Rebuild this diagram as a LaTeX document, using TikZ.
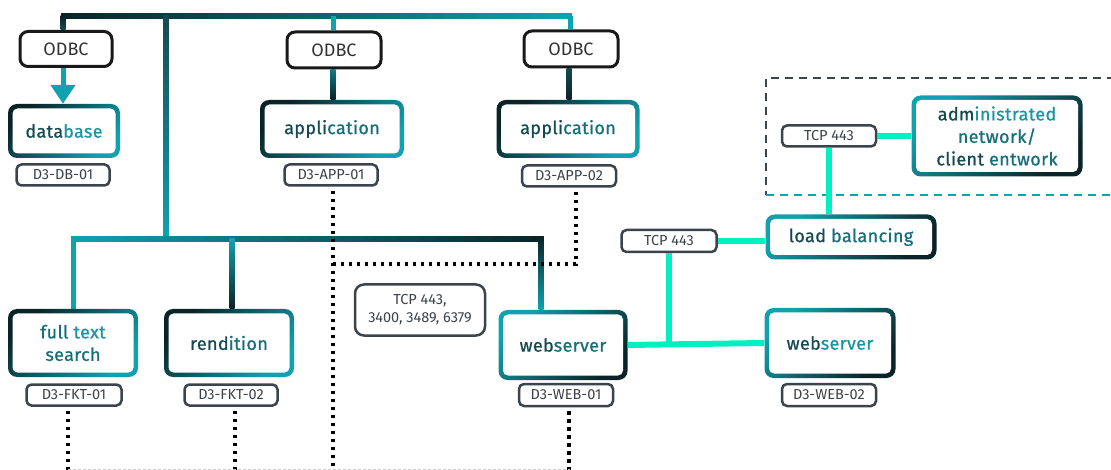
\documentclass[tikz,border=0pt]{standalone}
\usepackage{fontspec}
\setmainfont{Fira Sans}
\newfontfamily\boxfont[FakeBold=0.9,LetterSpace=2]{Fira Sans}
\usetikzlibrary{arrows.meta,calc}
\definecolor{dk}{HTML}{0A2326}
\definecolor{tl}{HTML}{11A2B0}
\definecolor{md}{HTML}{0E7A85}
\definecolor{tdk}{HTML}{164A50}
\definecolor{tmd}{HTML}{16707A}
\definecolor{ttl}{HTML}{1897A3}
\definecolor{mint}{HTML}{00F0C2}
\definecolor{slate}{HTML}{3B434C}
\definecolor{txtg}{HTML}{3D424A}
\newcommand\gbox[7]{%
  \shade[rounded corners=9pt,#6] ({#2-#4/2},{#3-#5/2}) rectangle ({#2+#4/2},{#3+#5/2});
  \fill[white,rounded corners=5pt] ({#2-#4/2+4.5},{#3-#5/2+4.5}) rectangle ({#2+#4/2-4.5},{#3+#5/2-4.5});
  \node[boxtext,minimum width=#4pt,minimum height=#5pt] (#1) at (#2,#3) {#7};}
\newcommand\hseg[4]{\shade[#4] ($(#1)+(0,-#3/2)$) rectangle ($(#2)+(0,#3/2)$);}
\newcommand\vseg[4]{\shade[#4] ($(#1)+(-#3/2,0)$) rectangle ($(#2)+(#3/2,0)$);}
\tikzset{
  x=1pt,y=-1pt,
  boxtext/.style={inner sep=0pt,align=center,font=\boxfont\fontsize{18}{22.5}\selectfont},
  dtl/.style={top color=dk,bottom color=tl,shading angle=45},
  tdl/.style={top color=tl,bottom color=dk,shading angle=45},
  odbc/.style={draw=black!90,line width=3pt,rounded corners=8pt,fill=white,inner sep=0pt,
    minimum width=92pt,minimum height=35pt,text=black!80,font=\fontsize{18}{20}\selectfont},
  lbl/.style={draw=slate,line width=2.5pt,rounded corners=5pt,fill=white,inner sep=0pt,
    minimum width=93pt,minimum height=21pt,text=txtg,align=center,font=\fontsize{14.5}{18}\selectfont},
  mintline/.style={draw=mint,line width=6pt},
  dotline/.style={draw=black,line width=3.5pt,dash pattern=on 3.5pt off 4.5pt},
}
\begin{document}
\begin{tikzpicture}
\useasboundingbox (0,0) rectangle (1111,470);
% dashed region
\draw[slate,line width=1.8pt,dash pattern=on 8pt off 6pt] (1115,78) -- (766,78) -- (766,195);
\draw[tl,line width=1.8pt,dash pattern=on 8pt off 6pt] (766,195) -- (1115,195);
% boxes
\gbox{db}{64}{131}{112}{54}{dtl}{\textcolor{tdk}{data}\textcolor{ttl}{base}}
\gbox{app1}{332}{129}{144}{58}{dtl}{\textcolor{tdk}{appli}\textcolor{tmd}{cation}}
\gbox{app2}{568}{129}{143}{58}{dtl}{\textcolor{tdk}{appli}\textcolor{tmd}{cation}}
\gbox{fts}{73}{343}{130}{68}{dtl}{\textcolor{tmd}{full} \textcolor{ttl}{text}\\\textcolor{tmd}{search}}
\gbox{rend}{229}{343}{130}{68}{dtl}{\textcolor{tdk}{rend}\textcolor{tmd}{ition}}
\gbox{web1}{563}{345}{129}{70}{tdl}{\textcolor{tdk}{web}\textcolor{tmd}{server}}
\gbox{web2}{830}{343}{131}{70}{tdl}{\textcolor{tdk}{web}\textcolor{ttl}{server}}
\gbox{lb}{851}{237}{171}{45}{tdl}{\textcolor{tdk}{load} \textcolor{tmd}{balancing}}
\gbox{admin}{997}{136}{171}{81}{tdl}{\textcolor{tdk}{adm}\textcolor{ttl}{inistrated}\\\textcolor{tmd}{network/}\\\textcolor{tdk}{client} \textcolor{tmd}{entwork}}
% ODBC nodes
\node[odbc] (odbc1) at (66,49) {ODBC};
\node[odbc,minimum width=94pt,minimum height=36pt] (odbc2) at (334,50) {ODBC};
\node[odbc,minimum width=94pt,minimum height=36pt] (odbc3) at (571,49) {ODBC};
% labels
\node[lbl] (db01) at (63,175) {D3-DB-01};
\node[lbl] (app01) at (331,175) {D3-APP-01};
\node[lbl,minimum width=94pt] (app02) at (569,176) {D3-APP-02};
\node[lbl,minimum width=95pt] (fkt01) at (74,395) {D3-FKT-01};
\node[lbl] (fkt02) at (231,395) {D3-FKT-02};
\node[lbl,minimum width=94pt,minimum height=22pt] (web01) at (566,395) {D3-WEB-01};
\node[lbl,minimum width=94pt,minimum height=22pt] (web02) at (829,395) {D3-WEB-02};
\node[lbl,minimum width=130pt,minimum height=51pt,rounded corners=9pt] (tcpm) at (420,310) {TCP 443,\\3400, 3489, 6379};
\node[lbl,minimum width=95pt,minimum height=22pt] (tcpB) at (669,241) {TCP 443};
\node[lbl,minimum width=94pt] (tcpA) at (829,136) {TCP 443};
% top bus
\coordinate (t0) at (61,16);
\coordinate (t4) at (572,16);
\coordinate (j1) at (63,16);
\coordinate (j2) at (166,16);
\coordinate (j3) at (333,16);
\coordinate (j4) at (570,16);
\hseg{t0}{t4}{5}{left color=dk,middle color=md,right color=tl}
\coordinate (o1t) at (j1 |- odbc1.north);
\vseg{j1}{o1t}{5}{top color=dk,bottom color=tdk}
\coordinate (o2t) at (j3 |- odbc2.north);
\draw[tl,line width=5pt] (j3) -- (o2t);
\coordinate (o3t) at (j4 |- odbc3.north);
\draw[tl,line width=5pt] (j4) -- (o3t);
% odbc to boxes
\coordinate (o1b) at (j1 |- odbc1.south);
\coordinate (dbt) at (j1 |- db.north);
\draw[tl,line width=5pt,-{Triangle[width=24pt,length=19pt]}] (o1b) -- (dbt);
\coordinate (o2b) at (j3 |- odbc2.south);
\coordinate (a1t) at (j3 |- app1.north);
\vseg{o2b}{a1t}{5}{top color=md,bottom color=dk}
\coordinate (o3b) at (569,0 |- odbc3.south);
\coordinate (a2t) at (569,0 |- app2.north);
\vseg{o3b}{a2t}{5}{top color=tdk,bottom color=dk}
% lower bus
\coordinate (b0) at (71,239);
\coordinate (b1) at (543.5,239);
\coordinate (j2b) at (166,239);
\vseg{j2}{j2b}{5}{top color=tdk,bottom color=tl}
\hseg{b0}{b1}{5}{left color=tl,middle color=tl!85!dk,right color=dk}
\coordinate (bf) at (73,239);
\coordinate (bft) at (bf |- fts.north);
\draw[tl,line width=5pt] (bf) -- (bft);
\coordinate (br) at (232,239);
\coordinate (brt) at (br |- rend.north);
\vseg{br}{brt}{5}{top color=tl,bottom color=dk}
\coordinate (bw) at (541,236.5);
\coordinate (bwt) at (bw |- web1.north);
\vseg{bw}{bwt}{5}{top color=dk,bottom color=tl}
% mint connectors
\draw[mintline] (tcpA.east) -- (admin.west);
\draw[mintline] (tcpA.south) -- (tcpA.south |- lb.north);
\draw[mintline] (tcpB.east) -- (tcpB.east -| lb.west);
\draw[mintline] (web1.east) -- (web2.west);
\coordinate (wj) at (tcpB.south |- web1.east);
\draw[mintline] (tcpB.south) -- (wj);
% dotted lines
\coordinate (bot1) at (333,470);
\draw[dotline] ($(app01.south)+(2,4)$) -- (bot1);
\coordinate (a2d) at (576,264);
\coordinate (a2l) at (333,264);
\draw[dotline] ($(app02.south)+(7,4)$) -- (a2d) -- (a2l);
\coordinate (bf1) at (68,470);
\draw[dotline] ($(fkt01.south)+(-6,4)$) -- (bf1);
\coordinate (bf2) at (235,470);
\draw[dotline] ($(fkt02.south)+(4,4)$) -- (bf2);
\coordinate (bw1) at (569,470);
\draw[dotline] ($(web01.south)+(3,4)$) -- (bw1);
\draw[black!20,line width=1pt,dash pattern=on 3pt off 2pt] (68,469) -- (570,469);
\end{tikzpicture}
\end{document}
